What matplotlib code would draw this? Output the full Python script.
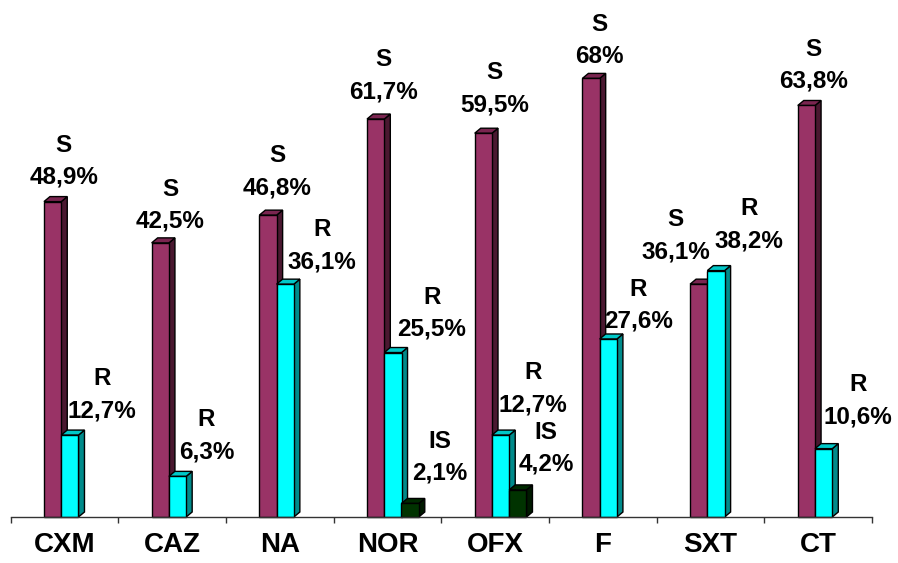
import matplotlib
matplotlib.use('Agg')
import matplotlib.pyplot as plt
from matplotlib.patches import Polygon
import numpy as np

# ---------------- data ----------------
categories = ['CXM', 'CAZ', 'NA', 'NOR', 'OFX', 'F', 'SXT', 'CT']
series_names = ['S', 'R', 'IS']
s_values = [48.9, 42.5, 46.8, 61.7, 59.5, 68.0, 36.1, 63.8]
r_values = [12.7, 6.3, 36.1, 25.5, 12.7, 27.6, 38.2, 10.6]
is_values = [None, None, None, 2.1, 4.2, None, None, None]

# ---------------- layout / style ----------------
# label offsets in pixels (dx, dy) of the value line baseline from the bar's front-top centre
s_label_off = [(11, 18), (10, 15), (9, 21), (8, 21), (11, 22), (8, 15), (-23, 26), (7, 17.5)]
r_label_off = [(32, 18), (29, 18), (37, 16), (39, 17), (32, 24), (30, 11), (33, 23.6), (34, 25.6)]
is_label_off = [None, None, None, (30, 23.5), (28, 19), None, None, None]

colors = {
    'S': ('#993366', '#4a1830', '#7a2550'),
    'R': ('#00ffff', '#008b8b', '#00c8c8'),
    'IS': ('#003300', '#001a00', '#002a00'),
}
slot_offsets = [-0.109, 0.051, 0.211]
bar_w = 0.1606
depth_px = (6, 5)
line_spacing_px = 32

FONT = 'Liberation Sans'

W, H, DPI = 898, 563, 100
fig = plt.figure(figsize=(W / DPI, H / DPI), dpi=DPI)
ax_left, ax_right = 10.5, 872.0
ax_bottom_px = 517.0
px_per_pct = 6.45
ymax = 80
ax = fig.add_axes([ax_left / W, (H - ax_bottom_px) / H, (ax_right - ax_left) / W,
                   ymax * px_per_pct / H])
ax.set_xlim(-0.5, len(categories) - 0.5)
ax.set_ylim(0, ymax)

px_x = (ax_right - ax_left) / len(categories)
ddx = depth_px[0] / px_x
ddy = depth_px[1] / px_per_pct


def fmt(v):
    s = f"{v:.1f}".replace('.', ',')
    if s.endswith(',0'):
        s = s[:-2]
    return s + '%'


def draw_series(values, name, slot, z, offs):
    front, side, top = colors[name]
    xs = [i + slot_offsets[slot] for i, v in enumerate(values) if v is not None]
    hs = [v for v in values if v is not None]
    for x, h in zip(xs, hs):
        x0 = x - bar_w / 2
        x1 = x + bar_w / 2
        ax.add_patch(Polygon([(x1, 0), (x1 + ddx, ddy), (x1 + ddx, h + ddy), (x1, h)],
                             closed=True, fc=side, ec='black', lw=1.0, zorder=z,
                             joinstyle='miter', clip_on=False))
        ax.add_patch(Polygon([(x0, h), (x0 + ddx, h + ddy), (x1 + ddx, h + ddy), (x1, h)],
                             closed=True, fc=top, ec='black', lw=1.0, zorder=z,
                             joinstyle='miter', clip_on=False))
    ax.bar(xs, hs, width=bar_w, color=front, edgecolor='black', linewidth=1.0,
           zorder=z + 0.5, clip_on=False)
    for i, v in enumerate(values):
        if v is None:
            continue
        dx, dy = offs[i]
        x = i + slot_offsets[slot]
        ax.annotate(fmt(v), xy=(x, v), xytext=(dx, dy), textcoords='offset pixels',
                    ha='center', va='baseline', fontsize=17.5, fontweight='bold',
                    family=FONT, zorder=10)
        ax.annotate(name, xy=(x, v), xytext=(dx, dy + line_spacing_px),
                    textcoords='offset pixels', ha='center', va='baseline',
                    fontsize=17.5, fontweight='bold', family=FONT, zorder=10)


draw_series(s_values, 'S', 0, 2, s_label_off)
draw_series(r_values, 'R', 1, 4, r_label_off)
draw_series(is_values, 'IS', 2, 6, is_label_off)

for sp in ['top', 'right', 'left']:
    ax.spines[sp].set_visible(False)
ax.spines['bottom'].set_color('#333333')
ax.spines['bottom'].set_linewidth(1.0)
ax.spines['bottom'].set_zorder(8)
ax.set_yticks([])

ax.set_xticks(np.arange(len(categories) + 1) - 0.5)
ax.set_xticklabels([])
ax.tick_params(axis='x', which='major', direction='out', length=4.5, width=1.0, color='#333333')
ax.set_xticks(np.arange(len(categories)), minor=True)
ax.set_xticklabels(categories, minor=True, fontsize=20, fontweight='bold', family=FONT)
ax.tick_params(axis='x', which='minor', length=0, pad=10.5)

fig.savefig('out.png', dpi=DPI)
